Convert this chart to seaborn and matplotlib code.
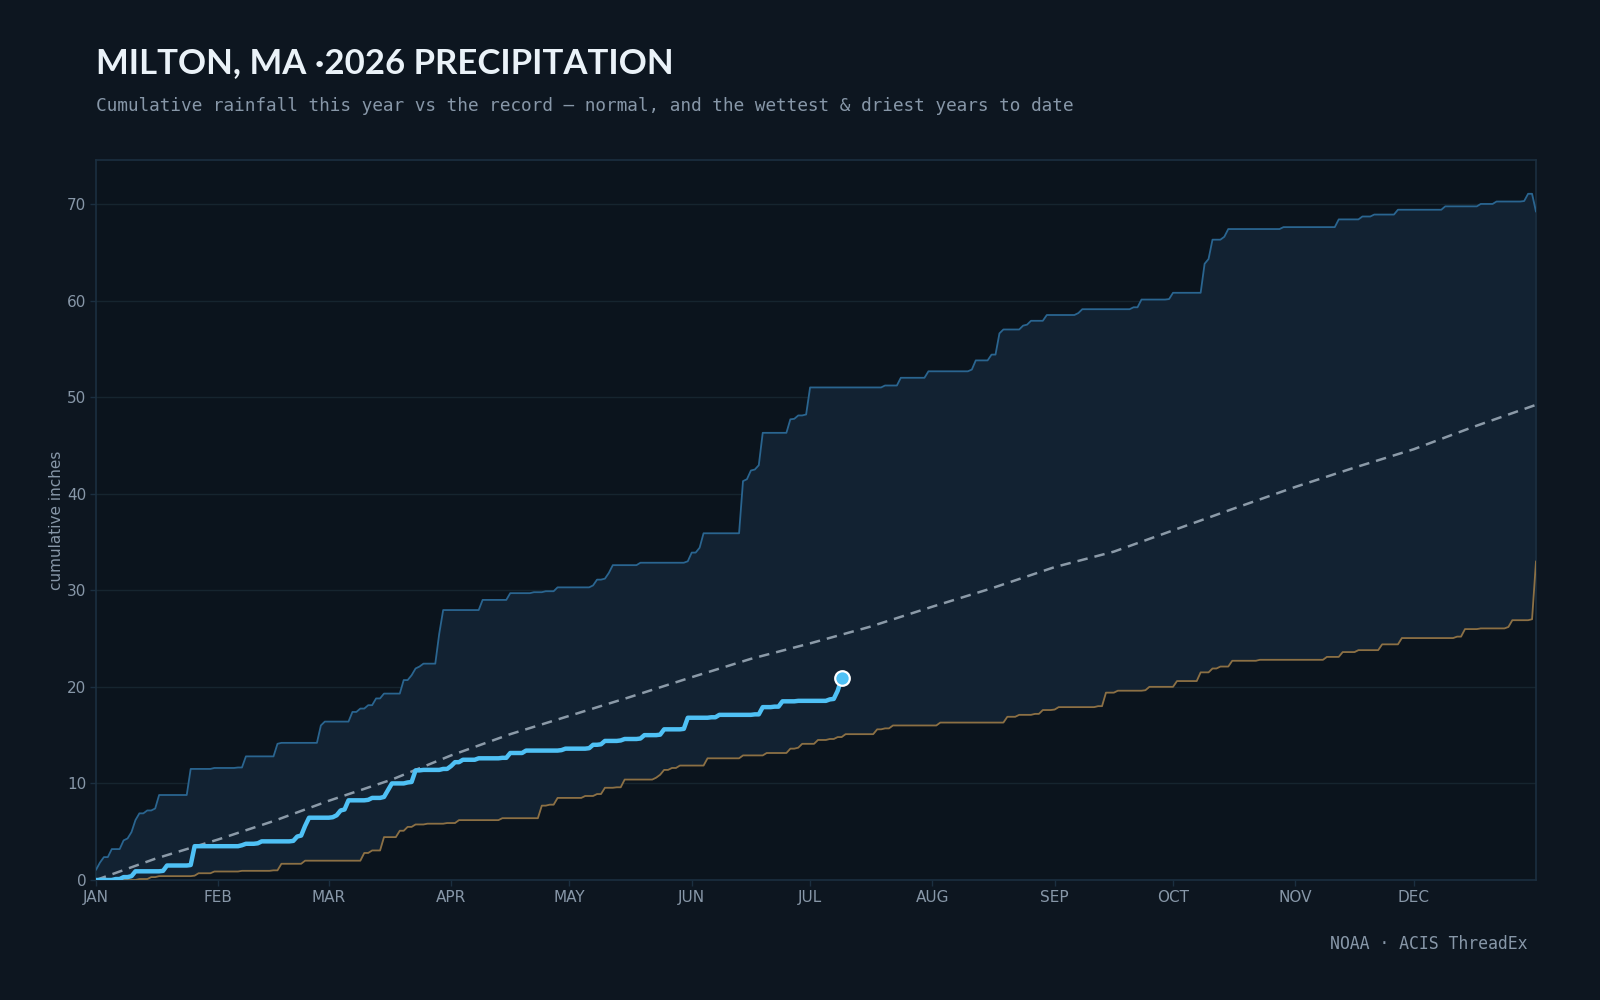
import numpy as np
import pandas as pd
import matplotlib
matplotlib.use("Agg")
import matplotlib.pyplot as plt
import seaborn as sns

# ---------------- data (day of year index 0..365, cumulative inches) ----------------
month_labels = ["JAN", "FEB", "MAR", "APR", "MAY", "JUN", "JUL", "AUG", "SEP", "OCT", "NOV", "DEC"]
month_start_days = [0, 31, 59, 90, 120, 151, 181, 212, 243, 273, 304, 334]

# wettest-to-date record: day on which a new cumulative total is reached
wet_days = [0, 1, 2, 4, 7, 8, 9, 10, 11, 13, 15, 16, 23, 24, 30, 36, 38, 45, 46, 47, 56, 57, 58,
            64, 65, 67, 69, 71, 73, 77, 78, 80, 81, 82, 83, 86, 87, 88, 97, 98, 105, 111, 114, 117,
            126, 127, 129, 130, 131, 138, 150, 151, 153, 154, 163, 164, 165, 166, 167, 168, 169,
            175, 176, 177, 178, 180, 181, 200, 204, 211, 222, 223, 227, 229, 230, 235, 236, 237,
            241, 249, 250, 263, 265, 272, 273, 280, 281, 282, 283, 286, 287, 301, 315, 321, 324,
            330, 342, 351, 355, 362, 363, 364, 365]
wet_vals = [1.05, 1.8, 2.37, 3.2, 4.1, 4.3, 4.96, 6.2, 6.9, 7.2, 7.4, 8.8, 8.8, 11.5, 11.6, 11.65,
            12.8, 12.8, 14.1, 14.2, 14.2, 16.0, 16.4, 16.4, 17.4, 17.75, 18.1, 18.8, 19.3, 19.3,
            20.7, 21.2, 21.9, 22.1, 22.4, 22.4, 25.5, 27.95, 27.95, 29.0, 29.7, 29.8, 29.9, 30.3,
            30.5, 31.1, 31.2, 31.8, 32.6, 32.85, 33.0, 33.9, 34.4, 35.9, 35.9, 41.3, 41.5, 42.4,
            42.5, 42.95, 46.3, 46.3, 47.7, 47.75, 48.1, 48.2, 51.0, 51.2, 52.0, 52.67, 52.85,
            53.8, 54.4, 56.6, 57.0, 57.4, 57.5, 57.9, 58.5, 58.7, 59.1, 59.3, 60.1, 60.15, 60.8,
            60.8, 63.8, 64.3, 66.3, 66.6, 67.4, 67.6, 68.4, 68.7, 68.9, 69.4, 69.75, 70.0, 70.25,
            70.3, 71.05, 71.05, 69.2]

# driest-to-date record
dry_days = [0, 11, 14, 16, 25, 26, 30, 37, 45, 47, 53, 67, 68, 70, 72, 73, 77, 79, 81, 84, 89,
            92, 103, 112, 113, 115, 117, 124, 127, 129, 132, 134, 142, 143, 144, 146, 148, 154,
            155, 164, 170, 176, 178, 179, 183, 186, 188, 190, 198, 200, 202, 214, 230, 231, 234,
            238, 240, 243, 244, 254, 255, 256, 259, 266, 267, 274, 279, 280, 283, 285, 288, 295,
            312, 316, 320, 326, 331, 345, 347, 351, 358, 359, 364, 365]
dry_vals = [0.0, 0.1, 0.3, 0.4, 0.45, 0.7, 0.88, 0.95, 1.0, 1.68, 2.0, 2.0, 2.8, 3.06, 3.06,
            4.44, 5.1, 5.5, 5.75, 5.83, 5.9, 6.2, 6.4, 6.4, 7.7, 7.8, 8.5, 8.7, 8.9, 9.55, 9.6,
            10.4, 10.6, 10.9, 11.4, 11.6, 11.85, 11.85, 12.6, 12.9, 13.15, 13.6, 13.7, 14.1,
            14.5, 14.6, 14.8, 15.1, 15.6, 15.7, 16.0, 16.3, 16.3, 16.9, 17.1, 17.2, 17.6, 17.65,
            17.9, 18.0, 18.0, 19.4, 19.6, 19.65, 20.0, 20.6, 20.6, 21.5, 21.9, 22.1, 22.7, 22.8,
            23.1, 23.6, 23.8, 24.4, 25.05, 25.2, 25.98, 26.05, 26.2, 26.9, 27.0, 33.0]

# 2026 year to date
cur_days = [0, 5, 7, 9, 10, 17, 18, 24, 25, 37, 38, 41, 42, 50, 51, 52, 53, 54, 60, 61, 62, 63,
            64, 69, 70, 73, 74, 75, 79, 80, 81, 83, 88, 90, 91, 93, 97, 103, 105, 109, 118, 119,
            125, 126, 128, 129, 133, 134, 138, 139, 143, 144, 149, 150, 156, 158, 167, 169, 172,
            174, 178, 186, 187, 188, 189]
cur_vals = [0.0, 0.1, 0.3, 0.4, 0.9, 0.95, 1.5, 1.55, 3.5, 3.6, 3.75, 3.8, 4.0, 4.05, 4.5, 4.6,
            5.6, 6.45, 6.5, 6.7, 7.2, 7.3, 8.25, 8.3, 8.5, 8.6, 9.3, 10.0, 10.1, 10.15, 11.35,
            11.4, 11.5, 11.8, 12.2, 12.45, 12.6, 12.65, 13.15, 13.4, 13.45, 13.6, 13.65, 14.0,
            14.05, 14.4, 14.45, 14.6, 14.65, 15.0, 15.05, 15.6, 15.65, 16.8, 16.85, 17.1, 17.15,
            17.9, 17.95, 18.5, 18.55, 18.7, 18.75, 19.6, 20.9]

# climate normal, read at month starts and mid-months
normal_days = [0, 15, 31, 45, 59, 75, 90, 105, 120, 135, 151, 166, 181, 196, 212, 227, 243,
               258, 273, 288, 304, 319, 334, 349, 365]
normal_vals = [0.0, 2.2, 4.2, 6.1, 8.2, 10.4, 12.9, 15.1, 17.0, 18.9, 21.0, 22.9, 24.5, 26.2,
               28.3, 30.2, 32.4, 34.0, 36.2, 38.4, 40.7, 42.7, 44.6, 46.9, 49.2]


def daily(days, vals):
    """Cumulative totals only change on rain days: hold each total until the next one."""
    s = pd.Series(vals, index=days)
    s = s[~s.index.duplicated(keep="last")]
    return s.reindex(range(days[0], days[-1] + 1)).ffill()


wet = daily(wet_days, wet_vals)
dry = daily(dry_days, dry_vals)
cur = daily(cur_days, cur_vals)

df_rec = pd.DataFrame({"day": wet.index, "wettest": wet.values, "driest": dry.values})
df_cur = pd.DataFrame({"day": cur.index, "inches": cur.values})
df_norm = pd.DataFrame({"day": normal_days, "inches": normal_vals})

# ---------------- style ----------------
BG = "#0d1620"
AX_BG = "#0b141d"
FILL = "#122232"
GRID = "#16252f"
SPINE = "#1b2f40"
TXT = "#8797a8"

sns.set_theme(style="dark")
plt.rcParams["font.family"] = ["DejaVu Sans"]

fig = plt.figure(figsize=(16, 10), dpi=100, facecolor=BG)
ax = fig.add_axes([0.06, 0.12, 0.90, 0.72])
ax.set_facecolor(AX_BG)

ax.fill_between(df_rec["day"], df_rec["driest"], df_rec["wettest"], color=FILL, lw=0, zorder=1)
sns.lineplot(data=df_rec, x="day", y="wettest", ax=ax, color="#2a6590", lw=1.3,
             estimator=None, zorder=3)
sns.lineplot(data=df_rec, x="day", y="driest", ax=ax, color="#8c7044", lw=1.3,
             estimator=None, zorder=3)
sns.lineplot(data=df_norm, x="day", y="inches", ax=ax, color="#8b9aa8", lw=1.8,
             estimator=None, zorder=4, dashes=False)
ax.lines[-1].set_dashes((4.2, 2.8))
sns.lineplot(data=df_cur, x="day", y="inches", ax=ax, color="#4fc1f5", lw=3.2,
             estimator=None, zorder=5)
sns.scatterplot(data=df_cur.tail(1), x="day", y="inches", ax=ax, color="#4fc1f5", s=110,
                edgecolor="white", linewidth=1.6, zorder=6)

ax.set_xlim(0, 365)
ax.set_ylim(0, 74.55)
ax.set_xticks(month_start_days)
ax.set_xticklabels(month_labels)
ax.set_yticks([0, 10, 20, 30, 40, 50, 60, 70])
ax.grid(axis="y", color=GRID, lw=1.0)
ax.grid(axis="x", visible=False)
ax.tick_params(axis="both", colors=SPINE, labelcolor=TXT, labelsize=11, length=4, width=1,
               bottom=True, left=True, pad=3)
for sp in ax.spines.values():
    sp.set_visible(True)
    sp.set_color(SPINE)
    sp.set_linewidth(1.2)
ax.set_xlabel("")
ax.set_ylabel("cumulative inches", color=TXT, fontsize=11, labelpad=2)

fig.text(0.06, 0.9265, "MILTON, MA \u00b72026 PRECIPITATION", fontsize=25, fontweight="bold",
         family=["Lato", "DejaVu Sans"], color="#eaf2f8", va="baseline", ha="left")
fig.text(0.06, 0.894, "Cumulative rainfall this year vs the record \u2014 normal, and the wettest & driest years to date",
         fontsize=12.75, family=["DejaVu Sans Mono"], color="#8797a8", va="center", ha="left")
fig.text(0.9545, 0.056, "NOAA \u00b7 ACIS ThreadEx", fontsize=11.9, family=["DejaVu Sans Mono"],
         color="#8797a8", va="center", ha="right")

fig.savefig("out.png", dpi=100, facecolor=BG)
